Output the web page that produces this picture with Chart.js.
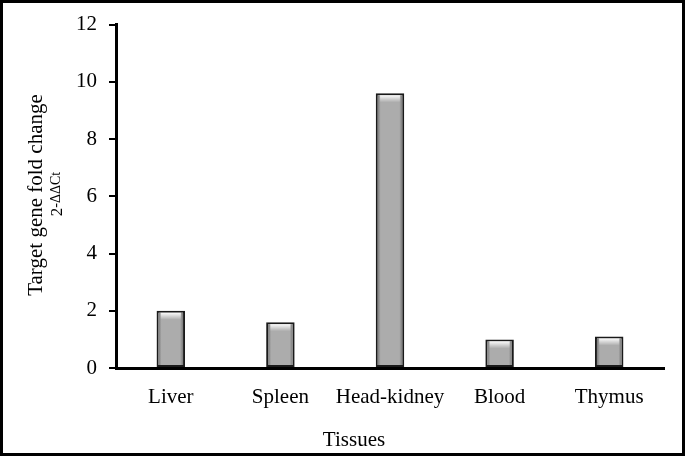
<!DOCTYPE html>
<html>
<head>
<meta charset="utf-8">
<script src="https://cdn.jsdelivr.net/npm/chart.js@4.4.0/dist/chart.umd.min.js"></script>
<style>
  html, body { margin: 0; padding: 0; background: #fff; }
  #wrap { width: 685px; height: 457px; }
</style>
</head>
<body>
<div id="wrap"><canvas id="chart" width="685" height="457"></canvas></div>
<script>
// tissues and fold change values (2^-ddCt)
const tissues = ['Liver', 'Spleen', 'Head-kidney', 'Blood', 'Thymus'];
const foldChange = [2.0, 1.6, 9.6, 1.0, 1.1];
const yTicks = [0, 2, 4, 6, 8, 10, 12];

const serif = "'Liberation Serif', 'Times New Roman', serif";

// frame, axis titles and bar bevel
const extras = {
    id: 'extras',
    afterDatasetsDraw(chart) {
        const ctx = chart.ctx;
        const meta = chart.getDatasetMeta(0);
        meta.data.forEach(function (bar) {
            const left = bar.x - bar.width / 2 + 2;
            const w = bar.width - 4;
            const top = bar.y + 2;
            const h = bar.base - bar.y - 4;
            ctx.save();
            let g = ctx.createLinearGradient(0, top, 0, top + 7);
            g.addColorStop(0, 'rgba(255,255,255,0.95)');
            g.addColorStop(1, 'rgba(255,255,255,0)');
            ctx.fillStyle = g;
            ctx.fillRect(left + 2, top, w - 4, Math.min(7, h));
            let gl = ctx.createLinearGradient(left, 0, left + 3, 0);
            gl.addColorStop(0, 'rgba(90,90,90,0.6)');
            gl.addColorStop(1, 'rgba(90,90,90,0)');
            ctx.fillStyle = gl;
            ctx.fillRect(left, top, 3, h);
            let gr = ctx.createLinearGradient(left + w, 0, left + w - 3, 0);
            gr.addColorStop(0, 'rgba(90,90,90,0.6)');
            gr.addColorStop(1, 'rgba(90,90,90,0)');
            ctx.fillStyle = gr;
            ctx.fillRect(left + w - 3, top, 3, h);
            ctx.restore();
        });
    },
    afterDraw(chart) {
        const ctx = chart.ctx;
        ctx.save();
        ctx.strokeStyle = '#000';
        ctx.lineWidth = 3;
        ctx.strokeRect(1.5, 1.5, 682, 453);

        ctx.fillStyle = '#000';
        ctx.textAlign = 'center';
        ctx.textBaseline = 'middle';
        ctx.font = '21px ' + serif;
        ctx.fillText('Tissues', 354, 440);

        ctx.translate(36, 195);
        ctx.rotate(-Math.PI / 2);
        ctx.fillText('Target gene fold change', 0, 0);
        ctx.restore();

        ctx.save();
        ctx.translate(62, 194);
        ctx.rotate(-Math.PI / 2);
        ctx.fillStyle = '#000';
        ctx.textBaseline = 'alphabetic';
        ctx.textAlign = 'left';
        ctx.font = '17px ' + serif;
        const two = ctx.measureText('2').width;
        ctx.font = '14px ' + serif;
        const sup = ctx.measureText('-ΔΔCt').width;
        const start = -(two + sup) / 2;
        ctx.font = '17px ' + serif;
        ctx.fillText('2', start, 0);
        ctx.font = '14px ' + serif;
        ctx.fillText('-ΔΔCt', start + two, -2);
        ctx.restore();
    }
};

new Chart(document.getElementById('chart'), {
    type: 'bar',
    data: {
        labels: tissues,
        datasets: [{
            data: foldChange,
            backgroundColor: '#acacac',
            borderColor: '#1a1a1a',
            borderWidth: 2,
            borderSkipped: false,
            categoryPercentage: 1.0,
            barPercentage: 0.26
        }]
    },
    options: {
        responsive: false,
        animation: false,
        events: [],
        layout: { padding: { top: 21, right: 21, left: 0, bottom: 0 } },
        plugins: { legend: { display: false }, tooltip: { enabled: false } },
        scales: {
            x: {
                grid: { display: false, drawTicks: false },
                border: { display: true, color: '#000', width: 3 },
                ticks: { color: '#000', font: { family: serif, size: 21 }, padding: 17, maxRotation: 0, autoSkip: false },
                afterFit(scale) { scale.height = 89; }
            },
            y: {
                min: 0,
                max: 12,
                afterBuildTicks(scale) { scale.ticks = yTicks.map(v => ({ value: v })); },
                grid: { drawOnChartArea: false, drawTicks: true, tickLength: 7, color: '#000', lineWidth: 2 },
                border: { display: true, color: '#000', width: 3 },
                ticks: { color: '#000', font: { family: serif, size: 21 }, padding: 12 },
                afterFit(scale) { scale.width = 116; }
            }
        }
    },
    plugins: [extras]
});
</script>
</body>
</html>
